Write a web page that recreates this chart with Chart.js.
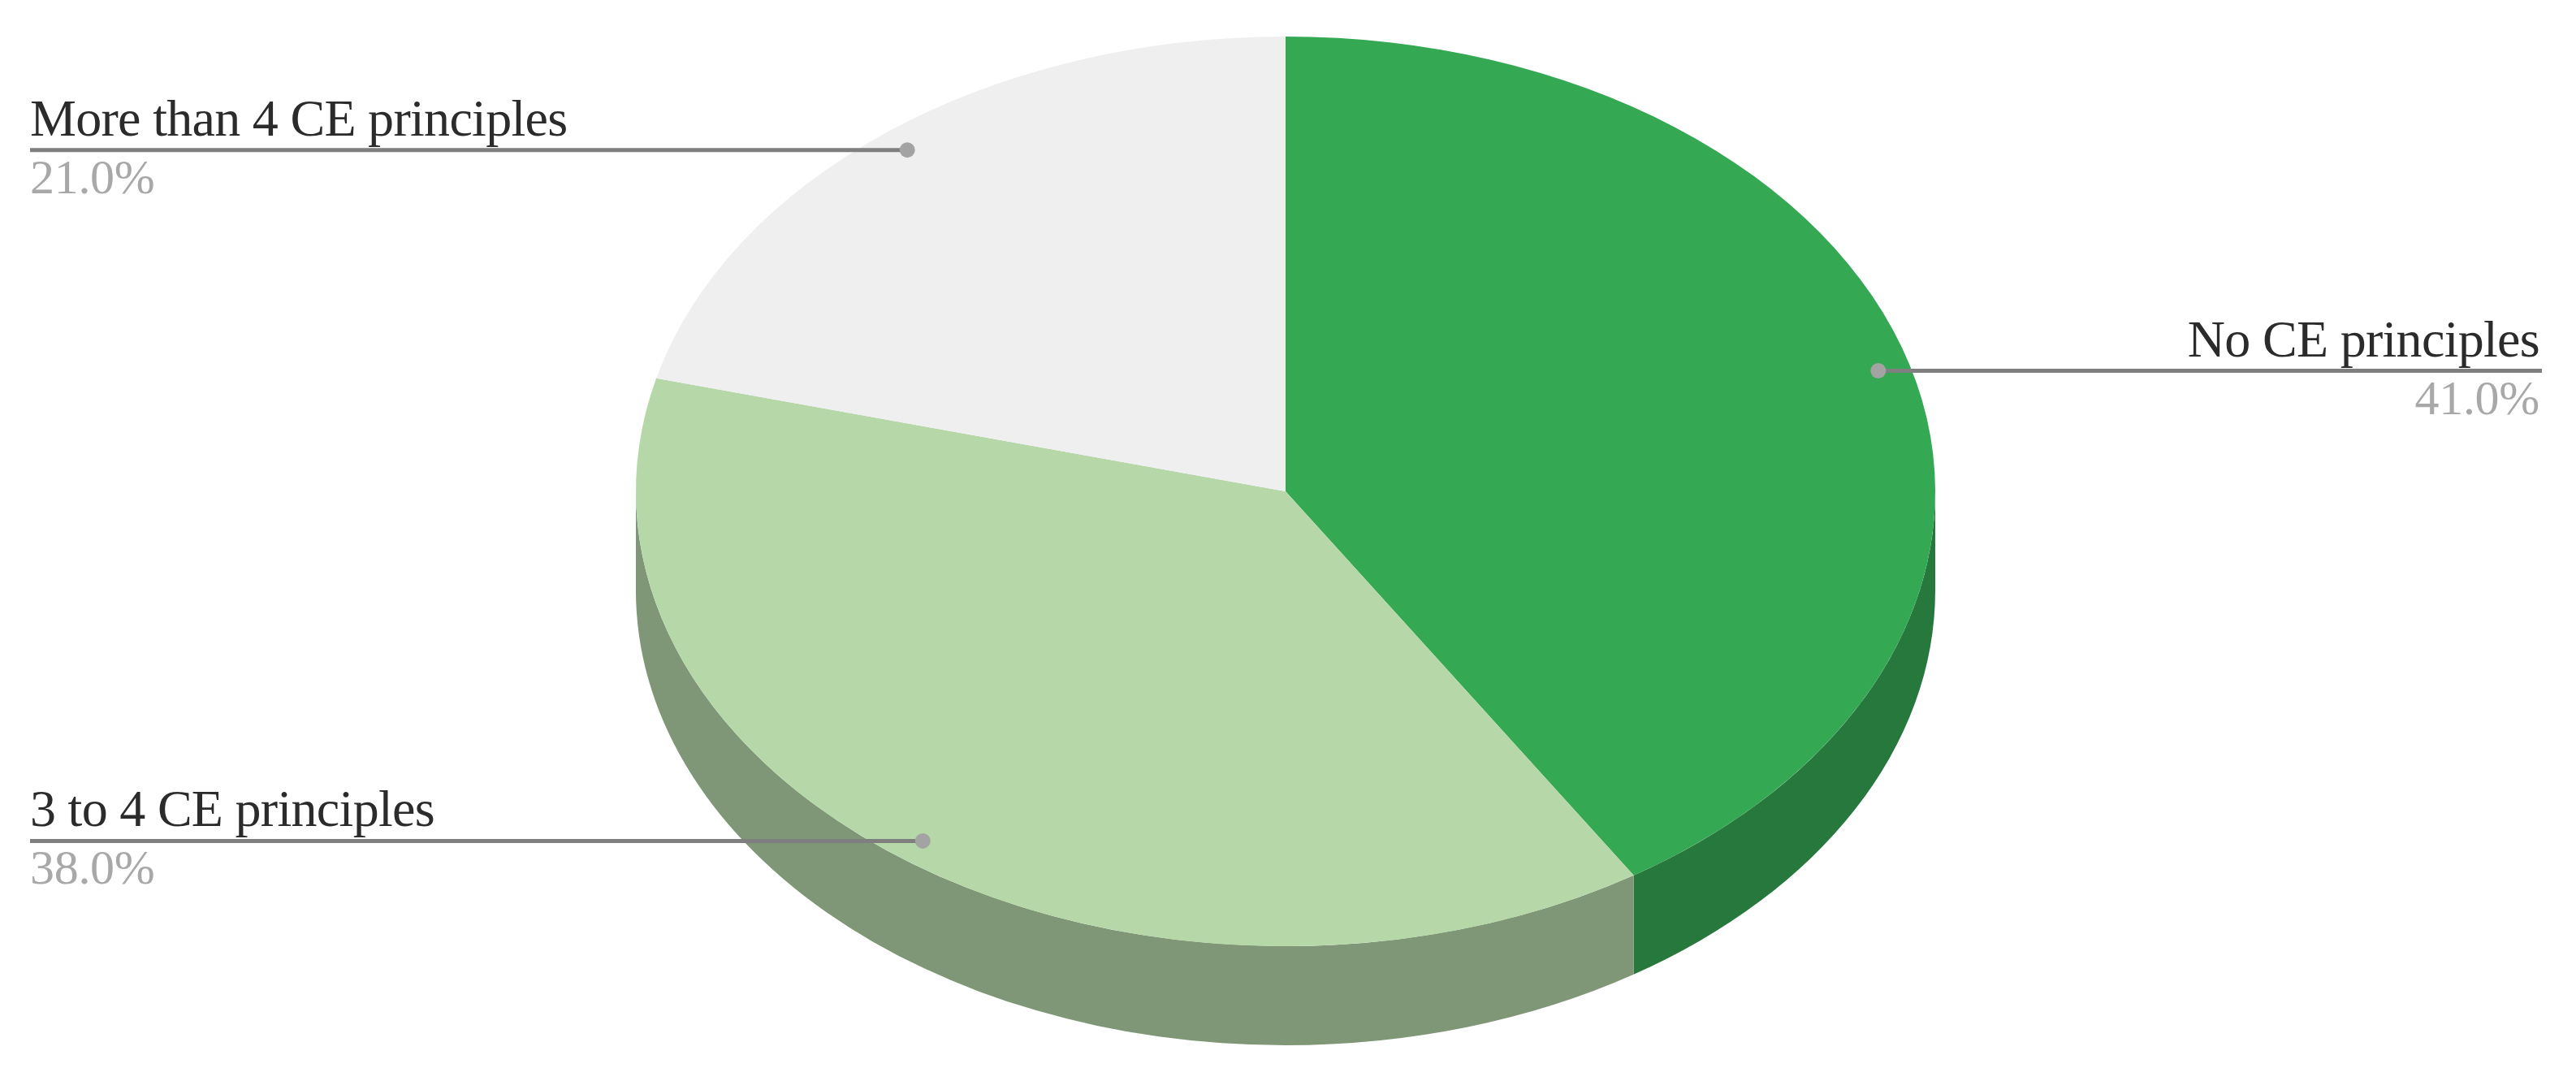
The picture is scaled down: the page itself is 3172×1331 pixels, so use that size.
<!DOCTYPE html>
<html><head><meta charset="utf-8">
<style>html,body{margin:0;padding:0;background:#fff}#wrap{width:3172px;height:1331px;position:relative}canvas{display:block}</style>
<script src="https://cdn.jsdelivr.net/npm/chart.js@4"></script>
</head><body><div id="wrap"><canvas id="c" width="3172" height="1331"></canvas></div>
<script>
const categories = ["No CE principles", "3 to 4 CE principles", "More than 4 CE principles"];
const values = [41.0, 38.0, 21.0];
const topColors = ["#34a853", "#b6d7a8", "#efefef"];
const sideColors = ["#26783c", "#7f9677", "#a7a7a7"];
const labelSides = ["right", "left", "left"];

const stretchX = 800 / 560, depth = 122, leftX = 37, rightX = 3130, dotFrac = 0.95;

function centre(chart) {
  const a = chart.getDatasetMeta(0).data[0];
  return { x: a.x, y: a.y, r: a.outerRadius };
}
const pie3d = {
  id: 'pie3d',
  beforeDatasetsDraw(chart) {
    const ctx = chart.ctx, c = centre(chart);
    ctx.save();
    ctx.translate(c.x, c.y); ctx.scale(stretchX, 1); ctx.translate(-c.x, -c.y);
    chart.getDatasetMeta(0).data.forEach((arc, i) => {
      const a0 = Math.max(arc.startAngle, 0), a1 = Math.min(arc.endAngle, Math.PI);
      if (a1 <= a0) return;
      ctx.beginPath();
      ctx.arc(c.x, c.y, c.r, a0, a1);
      ctx.arc(c.x, c.y + depth, c.r, a1, a0, true);
      ctx.closePath();
      ctx.fillStyle = sideColors[i];
      ctx.fill();
    });
  },
  afterDatasetsDraw(chart) {
    const ctx = chart.ctx, c = centre(chart);
    ctx.restore();
    chart.getDatasetMeta(0).data.forEach((arc, i) => {
      const mid = (arc.startAngle + arc.endAngle) / 2;
      const dx = c.x + Math.cos(mid) * c.r * stretchX * dotFrac;
      const dy = c.y + Math.sin(mid) * c.r * dotFrac;
      const right = labelSides[i] === 'right';
      const edge = right ? rightX : leftX;
      ctx.save();
      ctx.strokeStyle = '#7f7f7f'; ctx.lineWidth = 5;
      ctx.beginPath(); ctx.moveTo(dx, dy); ctx.lineTo(edge, dy); ctx.stroke();
      ctx.fillStyle = '#a3a3a3';
      ctx.beginPath(); ctx.arc(dx, dy, 9.5, 0, Math.PI * 2); ctx.fill();
      ctx.textAlign = right ? 'right' : 'left';
      ctx.textBaseline = 'alphabetic';
      ctx.letterSpacing = '-0.7px';
      ctx.font = '64px "Liberation Serif"';
      ctx.fillStyle = '#2b2b2b';
      ctx.fillText(categories[i], edge - (right ? 3 : 0), dy - 18);
      ctx.letterSpacing = '-0.3px';
      ctx.font = '60px "Liberation Serif"';
      ctx.fillStyle = '#a8a8a8';
      ctx.fillText(values[i].toFixed(1) + '%', edge - (right ? 3 : 0), dy + 53);
      ctx.restore();
    });
  }
};

new Chart(document.getElementById('c'), {
  type: 'pie',
  data: { labels: categories, datasets: [{ data: values, backgroundColor: topColors, borderWidth: 0, clip: false }] },
  options: {
    responsive: false, animation: false, events: [],
    layout: { padding: { top: 45, bottom: 166, left: 0, right: 6 } },
    plugins: { legend: { display: false }, tooltip: { enabled: false } }
  },
  plugins: [pie3d]
});
</script></body></html>
